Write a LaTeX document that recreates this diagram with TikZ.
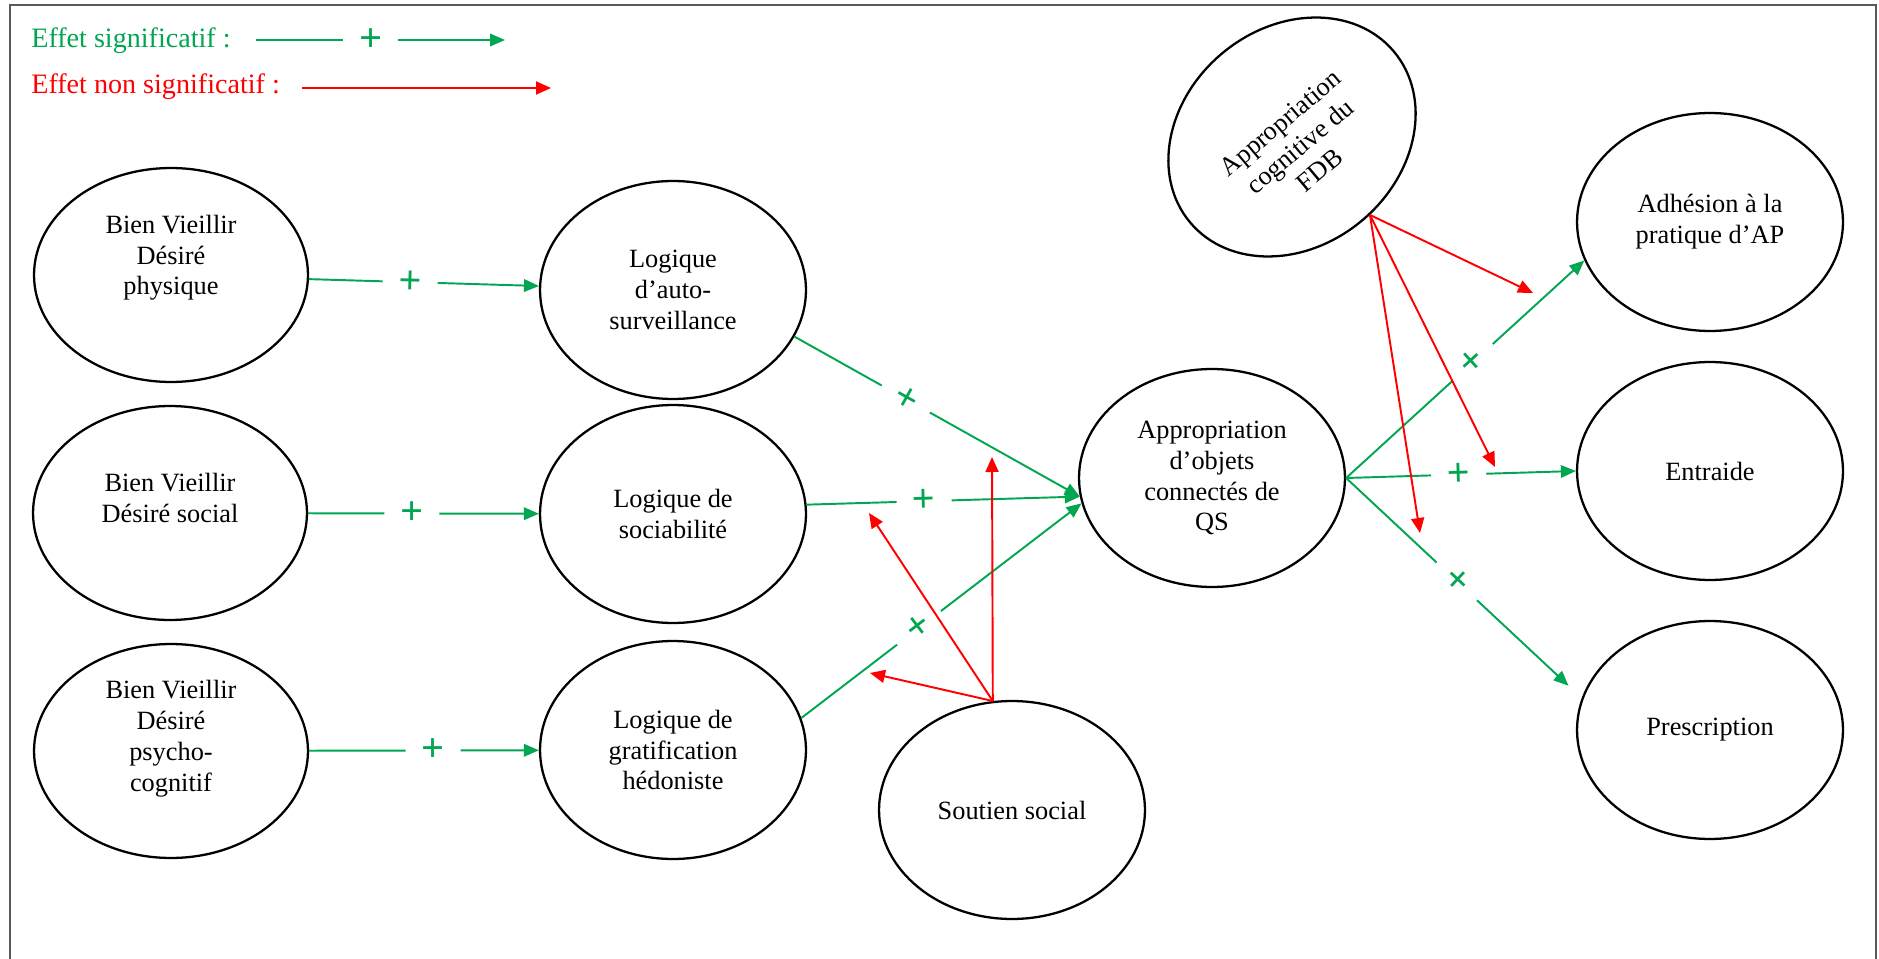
\documentclass[tikz,border=0pt]{standalone}
\usepackage{fontspec}
\setmainfont{Liberation Serif}
\usepackage{xcolor}
\usepackage{tikz}
\usetikzlibrary{arrows.meta,shapes,positioning}

\definecolor{sigcol}{RGB}{0,166,81}
\definecolor{nsigcol}{RGB}{255,0,0}
\definecolor{framecol}{RGB}{90,90,90}

\begin{document}
\begin{tikzpicture}[x=0.02cm, y=-0.02cm,
  ell/.style={draw, ellipse, line width=1.3pt, inner sep=0pt, align=center,
    minimum width=5.32cm, minimum height=4.36cm, font=\fontsize{15}{17.6}\selectfont},
  bvd/.style={ell, minimum width=5.48cm, minimum height=4.28cm},
  sig/.style={sigcol, line width=1.1pt, -{Triangle[length=0.3cm,width=0.25cm]}},
  nsig/.style={nsigcol, line width=1.1pt, -{Triangle[length=0.3cm,width=0.26cm]}},
  plus/.style={fill=white, inner sep=0pt, minimum width=1.1cm, minimum height=0.45cm,
    sloped, text=sigcol, font=\fontsize{23}{23}\selectfont\bfseries},
  legend/.style={anchor=west, inner sep=0pt, font=\fontsize{16}{19}\selectfont}]

  \useasboundingbox (0,0) rectangle (1879,959);
  \fill[white] (0,0) rectangle (1879,959);
  \draw[framecol, line width=1.1pt] (10,959) -- (10,5) -- (1876,5) -- (1876,959);

  % legende
  \node[legend, text=sigcol] (lsig) at (31,41) {Effet significatif :};
  \node[legend, text=nsigcol] (lnsig) at (31,87) {Effet non significatif :};
  \coordinate (lsigA) at (256,40);
  \coordinate (lsigB) at (505,40);
  \coordinate (lnsigA) at (302,88);
  \coordinate (lnsigB) at (551,88);
  \draw[sig] (lsigA) -- node[plus, pos=0.46] (lplus) {+} (lsigB);
  \draw[nsig] (lnsigA) -- (lnsigB);

  % bien vieillir desire
  \node[bvd] (bvphys) at (171,275) {Bien Vieillir\\Désiré\\physique\\\strut};
  \node[bvd] (bvsoc) at (170,513) {Bien Vieillir\\Désiré social\\[-6pt]\strut};
  \node[bvd] (bvpsy) at (171,751) {Bien Vieillir\\Désiré\\psycho-\\cognitif\\[-6pt]\strut};

  % logiques
  \node[ell] (autosurv) at (673,290) {Logique\\d’auto-\\surveillance};
  \node[ell] (sociab) at (673,514) {Logique de\\sociabilité};
  \node[ell] (hedon) at (673,750) {Logique de\\gratification\\hédoniste};

  \node[ell] (appobj) at (1212,478) {Appropriation\\d’objets\\connectés de\\QS};
  \node[ell] (soutien) at (1012,810) {Soutien social};
  \node[ell, rotate=40] (appcog) at (1292,137) {\strut\\[-6pt]Appropriation\\cognitive du\\FDB};

  \node[ell] (adhesion) at (1710,222) {Adhésion à la\\pratique d’AP};
  \node[ell] (entraide) at (1710,471) {Entraide};
  \node[ell] (prescr) at (1710,730) {Prescription};

  \draw[sig] (bvphys) -- node[plus, pos=0.44] (pl1) {+} (autosurv);
  \draw[sig] (bvsoc) -- node[plus, pos=0.45] (pl2) {+} (sociab);
  \draw[sig] (bvpsy) -- node[plus, pos=0.54] (pl3) {+} (hedon);

  \draw[sig] (autosurv.-21) -- node[plus, pos=0.39] (pl4) {+} (appobj.188);
  \draw[sig] (sociab.4) -- node[plus, pos=0.43] (pl5) {+} (appobj.188);
  \draw[sig] (hedon.14) -- node[plus, pos=0.42] (pl6) {+} (appobj.191);

  \draw[sig] (appobj.east) -- node[plus, pos=0.53] (pl7) {+} (adhesion.197);
  \draw[sig] (appobj.east) -- node[plus, pos=0.49] (pl8) {+} (entraide.west);
  \draw[sig, shorten >=0.36cm] (appobj.east) -- node[plus, pos=0.47] (pl9) {+} (prescr.166);

  % effets de moderation
  \coordinate (tSurv) at (992,457);
  \coordinate (tSoc) at (869,513);
  \coordinate (tHed) at (870,673);
  \coordinate (tAdh) at (1533,293);
  \coordinate (tEnt) at (1495,467);
  \coordinate (tPre) at (1420,533);
  \foreach \t in {tSurv,tSoc,tHed}
    \draw[nsig] (soutien.100) -- (\t);
  \foreach \t in {tAdh,tEnt,tPre}
    \draw[nsig] (appcog.-85) -- (\t);

\end{tikzpicture}
\end{document}
